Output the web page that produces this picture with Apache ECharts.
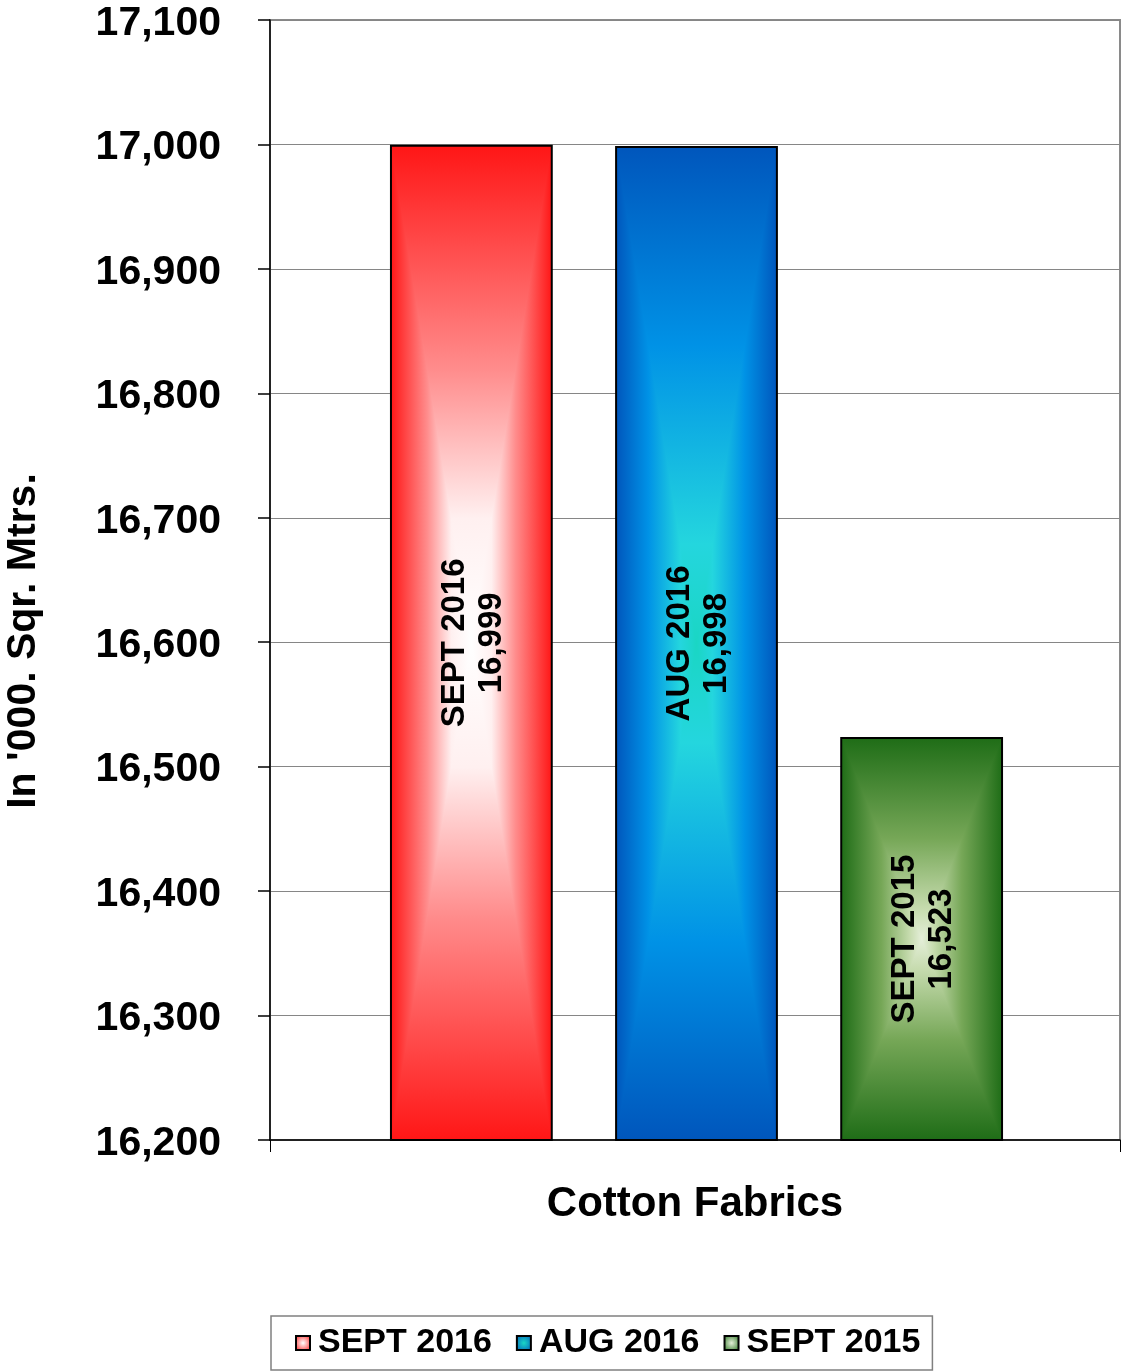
<!DOCTYPE html>
<html>
<head>
<meta charset="utf-8">
<script src="https://cdn.jsdelivr.net/npm/echarts@6/dist/echarts.min.js"></script>
<style>
html,body{margin:0;padding:0;background:#fff;}
#chart{width:1121px;height:1372px;}
</style>
</head>
<body>
<div id="chart"></div>
<script>
// ---- data ----
var categories = ['Cotton Fabrics'];
var seriesNames = ['SEPT 2016', 'AUG 2016', 'SEPT 2015'];
var seriesValues = [16999, 16998, 16523];
var yMin = 16200, yMax = 17100, yInterval = 100;
var axisTitle = "In '000. Sqr. Mtrs.";

// ---- styles (edge -> centre colour stops of the path gradient) ----
var gradStops = [
  [[0, '#ff1616'], [0.45, '#ff8c8c'], [0.75, '#fff0f0'], [1, '#ffffff']],
  [[0, '#0056bc'], [0.4, '#0092e6'], [0.8, '#24d6de'], [1, '#1ad6c4']],
  [[0, '#1f6d17'], [0.5, '#76a757'], [0.85, '#c6dbae'], [1, '#e4eed8']]
];
var FONT = '"Liberation Sans", Arial, Helvetica, sans-serif';
var barWidthRatio = 161 / 851;
var barGapRatio = 0.4;

function mirrorStops(stops) {
  var out = [];
  stops.forEach(function (s) { out.push({offset: s[0] / 2, color: s[1]}); });
  for (var i = stops.length - 1; i >= 0; i--) {
    out.push({offset: 1 - stops[i][0] / 2, color: stops[i][1]});
  }
  return out;
}
function linStops(stops) {
  return stops.map(function (s) { return {offset: s[0], color: s[1]}; });
}
function fmt(v) { return v.toLocaleString('en-US'); }

var chart = echarts.init(document.getElementById('chart'), null, {renderer: 'canvas'});

function makeRender(idx) {
  return function (params, api) {
    var catIdx = api.value(0);
    var val = api.value(1);
    var top = api.coord([catIdx, val]);
    var base = api.coord([catIdx, yMin]);
    var band = api.size([1, 0])[0];
    var bw = band * barWidthRatio;
    var gap = bw * barGapRatio;
    var n = seriesValues.length;
    var total = n * bw + (n - 1) * gap;
    var x0 = top[0] - total / 2 + idx * (bw + gap) + 1.5;
    var x1 = x0 + bw;
    var y0 = top[1], y1 = base[1];
    var cx = (x0 + x1) / 2, cy = (y0 + y1) / 2;
    var st = gradStops[idx];
    return {
      type: 'group',
      children: [
        {
          type: 'rect',
          shape: {x: x0, y: y0, width: bw, height: y1 - y0},
          style: {fill: new echarts.graphic.LinearGradient(0, 0, 1, 0, mirrorStops(st))}
        },
        {
          type: 'polygon',
          shape: {points: [[x0, y0], [x1, y0], [cx, cy]]},
          style: {fill: new echarts.graphic.LinearGradient(0, 0, 0, 1, linStops(st))}
        },
        {
          type: 'polygon',
          shape: {points: [[x0, y1], [x1, y1], [cx, cy]]},
          style: {fill: new echarts.graphic.LinearGradient(0, 1, 0, 0, linStops(st))}
        },
        {
          type: 'rect',
          shape: {x: x0, y: y0, width: bw, height: y1 - y0},
          style: {fill: 'none', stroke: '#000', lineWidth: 2}
        },
        {
          type: 'text',
          x: cx + 2, y: cy,
          rotation: Math.PI / 2,
          style: {
            text: seriesNames[idx] + '\n' + fmt(val),
            fill: '#000',
            font: 'bold 33px ' + FONT,
            align: 'center',
            verticalAlign: 'middle',
            lineHeight: 37
          }
        }
      ]
    };
  };
}

var series = seriesNames.map(function (name, i) {
  return {
    name: name,
    type: 'custom',
    renderItem: makeRender(i),
    encode: {x: 0, y: 1},
    itemStyle: {
      color: new echarts.graphic.RadialGradient(0.5, 0.5, 0.7, [
        {offset: 0, color: gradStops[i][3][1]},
        {offset: 1, color: gradStops[i][0][1]}
      ])
    },
    data: [[0, seriesValues[i]]]
  };
});

chart.setOption({
  backgroundColor: '#fff',
  animation: false,
  grid: {
    left: 270, right: 1, top: 20, bottom: 232,
    containLabel: false, outerBoundsMode: 'none',
    show: true, borderColor: '#8a8a8a', borderWidth: 2, backgroundColor: 'transparent'
  },
  legend: {
    data: seriesNames,
    left: 271,
    top: 1316,
    orient: 'horizontal',
    padding: [10, 12, 10, 24],
    borderColor: '#808080',
    borderWidth: 1.5,
    itemWidth: 14,
    itemHeight: 14,
    itemGap: 24,
    icon: 'rect',
    itemStyle: {borderColor: '#000', borderWidth: 2},
    textStyle: {fontFamily: FONT, fontWeight: 'bold', fontSize: 34, color: '#000', padding: [0, 0, 0, 3]}
  },
  xAxis: {
    type: 'category',
    data: categories,
    axisLine: {show: true, lineStyle: {color: '#000', width: 1.5}},
    axisTick: {show: true, length: 12, lineStyle: {color: '#000', width: 1}},
    axisLabel: {fontFamily: FONT, fontWeight: 'bold', fontSize: 42, color: '#000', margin: 43},
    splitLine: {show: false}
  },
  yAxis: {
    type: 'value',
    min: yMin,
    max: yMax,
    interval: yInterval,
    name: axisTitle,
    nameLocation: 'middle',
    nameRotate: 90,
    nameGap: 226,
    nameTextStyle: {fontFamily: FONT, fontWeight: 'bold', fontSize: 41, color: '#000', padding: [0, 122, 0, 0]},
    axisLine: {show: true, lineStyle: {color: '#000', width: 1.5}},
    axisTick: {show: true, length: 12, lineStyle: {color: '#000', width: 1.5}},
    axisLabel: {
      color: '#000', margin: 49,
      formatter: function (v) { return '{t|' + fmt(v) + '}'; },
      rich: {
        t: {fontFamily: FONT, fontWeight: 'bold', fontSize: 41, color: '#000', padding: [7, 0, 0, 0]}
      }
    },
    splitLine: {show: true, lineStyle: {color: '#868686', width: 1}}
  },
  series: series
});
</script>
</body>
</html>
